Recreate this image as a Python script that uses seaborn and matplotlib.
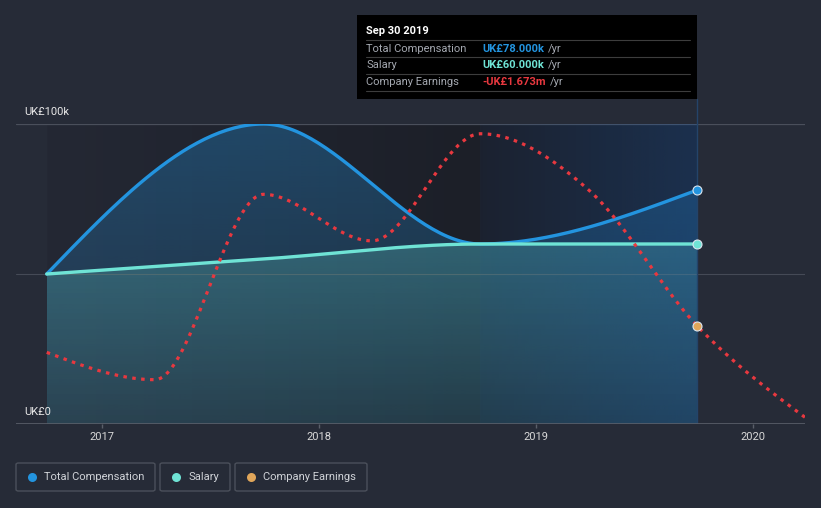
import numpy as np
import pandas as pd
import seaborn as sns
import matplotlib
matplotlib.use("Agg")
import matplotlib.pyplot as plt
import matplotlib.dates as mdates
from matplotlib.colors import LinearSegmentedColormap, to_rgb
from matplotlib.patches import Rectangle, FancyBboxPatch

# data (UK£k for pay, UK£m for earnings)
pay_dates = ["2016-09-30", "2017-09-30", "2018-09-30", "2019-09-30"]
total_comp = [50, 100, 60, 78]
salary = [50, 55, 60, 60]

earn_dates = ["2016-09-30", "2017-03-31", "2017-09-30", "2018-03-31",
              "2018-09-30", "2019-03-31", "2019-09-30", "2020-03-31"]
earnings = [-2.03, -2.40, 0.11, -0.52, 0.93, 0.17, -1.673, -2.92]

year_ticks = ["2017", "2018", "2019", "2020"]
legend_labels = ["Total Compensation", "Salary", "Company Earnings"]

BG = "#262b37"
BLUE = "#2394df"
TEAL = "#6fe3d5"
RED = "#e8383f"
ORANGE = "#e0a65a"


def monotone(x, y, n=60):
    # monotone cubic (Steffen) like d3 curveMonotoneX
    x = np.asarray(x, float)
    y = np.asarray(y, float)
    h = np.diff(x)
    s = np.diff(y) / h
    m = np.zeros(len(x))
    sg = lambda v: -1.0 if v < 0 else 1.0
    for i in range(1, len(x) - 1):
        p = (s[i - 1] * h[i] + s[i] * h[i - 1]) / (h[i - 1] + h[i])
        m[i] = (sg(s[i - 1]) + sg(s[i])) * min(abs(s[i - 1]), abs(s[i]), 0.5 * abs(p))
    m[0] = (3 * s[0] - m[1]) / 2
    m[-1] = (3 * s[-1] - m[-2]) / 2
    xs, ys = [], []
    for i in range(len(x) - 1):
        t = np.linspace(0, 1, n)
        h00 = 2 * t**3 - 3 * t**2 + 1
        h10 = t**3 - 2 * t**2 + t
        h01 = -2 * t**3 + 3 * t**2
        h11 = t**3 - t**2
        xs.append(x[i] + t * h[i])
        ys.append(h00 * y[i] + h10 * h[i] * m[i] + h01 * y[i + 1] + h11 * h[i] * m[i + 1])
    return np.concatenate(xs), np.concatenate(ys)


def gradient_fill(ax, xs, ys, color, a_top, a_bot, z):
    poly = ax.fill_between(xs, 0, ys, facecolor="none", edgecolor="none")
    arr = np.zeros((100, 1, 4))
    arr[:, 0, :3] = to_rgb(color)
    arr[:, 0, 3] = np.linspace(a_bot, a_top, 100)
    im = ax.imshow(arr, extent=[xs.min(), xs.max(), 0, 100], origin="lower",
                   aspect="auto", zorder=z)
    im.set_clip_path(poly.get_paths()[0], transform=ax.transData)


sns.set_style("dark")
plt.rcParams["font.family"] = ["Roboto", "DejaVu Sans"]

px = pd.to_datetime(pay_dates).map(mdates.date2num).values
ex = pd.to_datetime(earn_dates).map(mdates.date2num).values

fig = plt.figure(figsize=(8.21, 5.08), dpi=100, facecolor=BG)
W, H = 821, 508


def fx(p):
    return p / W


def fy(p):
    return 1 - p / H


ax = fig.add_axes([16 / W, 84 / H, 789 / W, 300 / H])
ax.set_facecolor("none")
for sp in ax.spines.values():
    sp.set_visible(False)

jan17 = mdates.date2num(pd.Timestamp("2017-01-01"))
x0 = jan17 - 86 / 217 * 365.25
x1 = jan17 + 703 / 217 * 365.25

# background shading behind the series
bg_cmap = LinearSegmentedColormap.from_list(
    "bg", [(0, "#242834"), (0.667, "#1c1f28"), (1, "#1a1e29")])
ax.imshow(np.linspace(0, 1, 256)[None, :], cmap=bg_cmap,
          extent=[px[0], px[-1], 0, 100], aspect="auto", zorder=0)

cx, cy = monotone(px, total_comp)
sx, sy = monotone(px, salary)
gradient_fill(ax, cx, cy, BLUE, 0.32, 0.10, 1)
gradient_fill(ax, sx, sy, TEAL, 0.33, 0.10, 2)

# last-year highlight band
band = np.zeros((1, 256, 4))
band[0, :, :3] = to_rgb("#1f5fb0")
band[0, :, 3] = np.linspace(0.06, 0.28, 256)
ax.imshow(band, extent=[px[-2], px[-1], 0, 100], aspect="auto", zorder=3)
ax.plot([px[-1], px[-1]], [0, 100], color="#24446a", lw=1, zorder=3)
fig.add_artist(plt.Line2D([fx(697), fx(697)], [fy(124), fy(99)], color="#24446a",
                          lw=1, transform=fig.transFigure))

ax.axhline(50, color="#454a56", lw=0.8, zorder=1.5)
ax.axhline(100, color="#4a4f5b", lw=0.9, zorder=1.5)
ax.axhline(0, color="#5a5f6a", lw=1.2, zorder=5)

sns.lineplot(x=cx, y=cy, ax=ax, color=BLUE, lw=2.4, zorder=6, sort=False)
sns.lineplot(x=sx, y=sy, ax=ax, color=TEAL, lw=2.4, zorder=6, sort=False)
ax.scatter([px[-1]], [total_comp[-1]], s=42, color=BLUE, edgecolor="#dde6f0", lw=0.8, zorder=8)
ax.scatter([px[-1]], [salary[-1]], s=42, color=TEAL, edgecolor="#dde6f0", lw=0.8, zorder=8)

ax.set_xlim(x0, x1)
ax.set_ylim(0, 100)
ax.set_yticks([])
ax.set_xticks([mdates.date2num(pd.Timestamp(y + "-01-01")) for y in year_ticks])
ax.set_xticklabels(year_ticks)
ax.tick_params(axis="x", colors="#5a5f6a", labelcolor="#d8d8d8", labelsize=8,
               length=3, width=1, pad=3, bottom=True)
ax.set_xlabel("")
ax.set_ylabel("")

ax2 = ax.twinx()
ax2.set_facecolor("none")
for sp in ax2.spines.values():
    sp.set_visible(False)
exs, eys = monotone(ex, earnings)
ax2.plot(exs, eys, color=RED, lw=2.3, linestyle=(0, (1.1, 1.7)), zorder=7)
ax2.scatter([ex[-2]], [earnings[-2]], s=42, color=ORANGE, edgecolor="#dde6f0", lw=0.8, zorder=8)
ax2.set_ylim(-3.0, -3.0 + 300 * 0.01354)
ax2.set_xlim(x0, x1)
ax2.set_yticks([])

ax.text(8 / 789, 104, "UK£100k", transform=ax.get_yaxis_transform(), color="#e8e8e8",
        fontsize=8, va="center", ha="left", zorder=9)
ax.text(8 / 789, 4, "UK£0", transform=ax.get_yaxis_transform(), color="#e8e8e8",
        fontsize=8, va="center", ha="left", zorder=9)

# tooltip
fig.patches.append(Rectangle((fx(357), fy(99)), 340 / W, 84 / H, transform=fig.transFigure,
                             facecolor="black", edgecolor="none", zorder=10))
fig.text(fx(366), fy(31), "Sep 30 2019", color="white", fontsize=8, fontweight="bold",
         va="center", zorder=11)
for yy in [40, 57, 74, 91]:
    fig.add_artist(plt.Line2D([fx(366), fx(690)], [fy(yy), fy(yy)], color="#3d3d3d",
                              lw=0.8, transform=fig.transFigure, zorder=11))
rows = [("Total Compensation", "UK£78.000k", BLUE),
        ("Salary", "UK£60.000k", TEAL),
        ("Company Earnings", "-UK£1.673m", RED)]
renderer = fig.canvas.get_renderer()
for i, (lab, val, col) in enumerate(rows):
    yy = fy(48.5 + i * 17)
    fig.text(fx(366), yy, lab, color="#a4a8b0", fontsize=8, va="center", zorder=11)
    t = fig.text(fx(482), yy, val, color=col, fontsize=8, fontweight="semibold",
                 va="center", zorder=11)
    right = t.get_window_extent(renderer).x1
    fig.text(fx(right + 4), yy, "/yr", color="#a4a8b0", fontsize=8, va="center", zorder=11)

# legend
boxes = [(16, 155), (160, 230), (235, 367)]
colors = [BLUE, TEAL, ORANGE]
for (l, r), lab, col in zip(boxes, legend_labels, colors):
    fig.patches.append(FancyBboxPatch((fx(l), fy(491)), (r - l) / W, 28 / H,
                                      boxstyle="round,pad=0,rounding_size=0.003",
                                      transform=fig.transFigure, facecolor="none",
                                      edgecolor="#4b505b", lw=1))
    fig.add_artist(plt.Line2D([fx(l + 16)], [fy(477)], marker="o", markersize=6.5,
                              color=col, markeredgewidth=0, transform=fig.transFigure))
    fig.text(fx(l + 28), fy(477.5), lab, color="#d0d3d8", fontsize=8, va="center")

fig.savefig("out.png", dpi=100, facecolor=BG)
